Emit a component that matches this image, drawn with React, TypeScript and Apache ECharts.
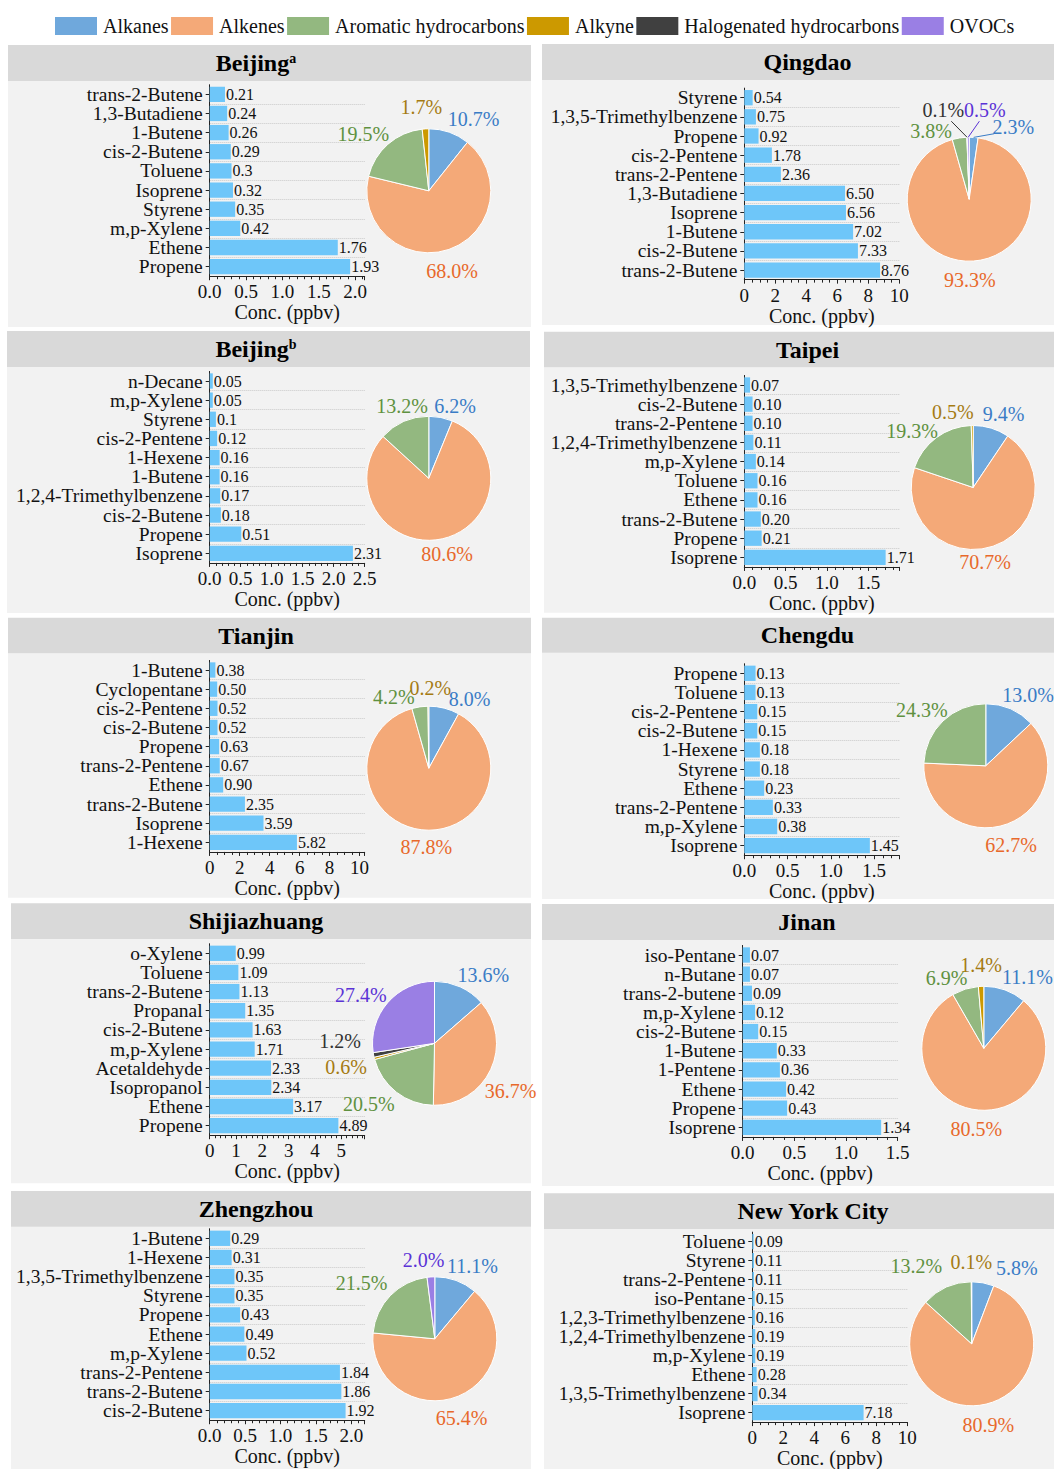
import React, { useEffect, useRef } from 'react';
import * as echarts from 'echarts';

const FONT = "'Liberation Serif', 'Times New Roman', Times, serif";

// ---------- categories / colours ----------
const groupNames = ['Alkanes', 'Alkenes', 'Aromatic hydrocarbons', 'Alkyne', 'Halogenated hydrocarbons', 'OVOCs'];
const groupColors = ['#6fa8dc', '#f4a978', '#93b880', '#cc9900', '#404040', '#9a7fe4'];
const groupLabelColors = ['#3a7cc6', '#e8692b', '#5f9140', '#a57b12', '#333333', '#5b33d6'];
const BAR_COLOR = '#6ec6f9';

// ---------- data ----------
const beijingASpecies = ['trans-2-Butene', '1,3-Butadiene', '1-Butene', 'cis-2-Butene', 'Toluene', 'Isoprene', 'Styrene', 'm,p-Xylene', 'Ethene', 'Propene'];
const beijingAConc = [0.21, 0.24, 0.26, 0.29, 0.3, 0.32, 0.35, 0.42, 1.76, 1.93];
const beijingAShare = [10.7, 68.0, 19.5, 1.7, 0, 0];

const qingdaoSpecies = ['Styrene', '1,3,5-Trimethylbenzene', 'Propene', 'cis-2-Pentene', 'trans-2-Pentene', '1,3-Butadiene', 'Isoprene', '1-Butene', 'cis-2-Butene', 'trans-2-Butene'];
const qingdaoConc = [0.54, 0.75, 0.92, 1.78, 2.36, 6.5, 6.56, 7.02, 7.33, 8.76];
const qingdaoShare = [2.3, 93.3, 3.8, 0, 0.1, 0.5];

const beijingBSpecies = ['n-Decane', 'm,p-Xylene', 'Styrene', 'cis-2-Pentene', '1-Hexene', '1-Butene', '1,2,4-Trimethylbenzene', 'cis-2-Butene', 'Propene', 'Isoprene'];
const beijingBConc = [0.05, 0.05, 0.1, 0.12, 0.16, 0.16, 0.17, 0.18, 0.51, 2.31];
const beijingBShare = [6.2, 80.6, 13.2, 0, 0, 0];

const taipeiSpecies = ['1,3,5-Trimethylbenzene', 'cis-2-Butene', 'trans-2-Pentene', '1,2,4-Trimethylbenzene', 'm,p-Xylene', 'Toluene', 'Ethene', 'trans-2-Butene', 'Propene', 'Isoprene'];
const taipeiConc = [0.07, 0.1, 0.1, 0.11, 0.14, 0.16, 0.16, 0.2, 0.21, 1.71];
const taipeiShare = [9.4, 70.7, 19.3, 0.5, 0, 0];

const tianjinSpecies = ['1-Butene', 'Cyclopentane', 'cis-2-Pentene', 'cis-2-Butene', 'Propene', 'trans-2-Pentene', 'Ethene', 'trans-2-Butene', 'Isoprene', '1-Hexene'];
const tianjinConc = [0.38, 0.5, 0.52, 0.52, 0.63, 0.67, 0.9, 2.35, 3.59, 5.82];
const tianjinShare = [8.0, 87.8, 4.2, 0.2, 0, 0];

const chengduSpecies = ['Propene', 'Toluene', 'cis-2-Pentene', 'cis-2-Butene', '1-Hexene', 'Styrene', 'Ethene', 'trans-2-Pentene', 'm,p-Xylene', 'Isoprene'];
const chengduConc = [0.13, 0.13, 0.15, 0.15, 0.18, 0.18, 0.23, 0.33, 0.38, 1.45];
const chengduShare = [13.0, 62.7, 24.3, 0, 0, 0];

const shijiazhuangSpecies = ['o-Xylene', 'Toluene', 'trans-2-Butene', 'Propanal', 'cis-2-Butene', 'm,p-Xylene', 'Acetaldehyde', 'Isopropanol', 'Ethene', 'Propene'];
const shijiazhuangConc = [0.99, 1.09, 1.13, 1.35, 1.63, 1.71, 2.33, 2.34, 3.17, 4.89];
const shijiazhuangShare = [13.6, 36.7, 20.5, 0.6, 1.2, 27.4];

const jinanSpecies = ['iso-Pentane', 'n-Butane', 'trans-2-butene', 'm,p-Xylene', 'cis-2-Butene', '1-Butene', '1-Pentene', 'Ethene', 'Propene', 'Isoprene'];
const jinanConc = [0.07, 0.07, 0.09, 0.12, 0.15, 0.33, 0.36, 0.42, 0.43, 1.34];
const jinanShare = [11.1, 80.5, 6.9, 1.4, 0, 0];

const zhengzhouSpecies = ['1-Butene', '1-Hexene', '1,3,5-Trimethylbenzene', 'Styrene', 'Propene', 'Ethene', 'm,p-Xylene', 'trans-2-Pentene', 'trans-2-Butene', 'cis-2-Butene'];
const zhengzhouConc = [0.29, 0.31, 0.35, 0.35, 0.43, 0.49, 0.52, 1.84, 1.86, 1.92];
const zhengzhouShare = [11.1, 65.4, 21.5, 0, 0, 2.0];

const nycSpecies = ['Toluene', 'Styrene', 'trans-2-Pentene', 'iso-Pentane', '1,2,3-Trimethylbenzene', '1,2,4-Trimethylbenzene', 'm,p-Xylene', 'Ethene', '1,3,5-Trimethylbenzene', 'Isoprene'];
const nycConc = [0.09, 0.11, 0.11, 0.15, 0.16, 0.19, 0.19, 0.28, 0.34, 7.18];
const nycShare = [5.8, 80.9, 13.2, 0.1, 0, 0];

// ---------- panels (content) ----------
const panels = [
  { title: 'Beijing', sup: 'a', species: beijingASpecies, conc: beijingAConc, share: beijingAShare, axisMax: 2.13, interval: 0.5, raw: true },
  { title: 'Qingdao', sup: '', species: qingdaoSpecies, conc: qingdaoConc, share: qingdaoShare, axisMax: 10, interval: 2, raw: false },
  { title: 'Beijing', sup: 'b', species: beijingBSpecies, conc: beijingBConc, share: beijingBShare, axisMax: 2.5, interval: 0.5, raw: true },
  { title: 'Taipei', sup: '', species: taipeiSpecies, conc: taipeiConc, share: taipeiShare, axisMax: 1.875, interval: 0.5, raw: false },
  { title: 'Tianjin', sup: '', species: tianjinSpecies, conc: tianjinConc, share: tianjinShare, axisMax: 10.34, interval: 2, raw: false },
  { title: 'Chengdu', sup: '', species: chengduSpecies, conc: chengduConc, share: chengduShare, axisMax: 1.79, interval: 0.5, raw: false },
  { title: 'Shijiazhuang', sup: '', species: shijiazhuangSpecies, conc: shijiazhuangConc, share: shijiazhuangShare, axisMax: 5.89, interval: 1, raw: false },
  { title: 'Jinan', sup: '', species: jinanSpecies, conc: jinanConc, share: jinanShare, axisMax: 1.5, interval: 0.5, raw: false },
  { title: 'Zhengzhou', sup: '', species: zhengzhouSpecies, conc: zhengzhouConc, share: zhengzhouShare, axisMax: 2.19, interval: 0.5, raw: false },
  { title: 'New York City', sup: '', species: nycSpecies, conc: nycConc, share: nycShare, axisMax: 10, interval: 2, raw: false },
];

// ---------- layout (positions only) ----------
const ROW_STEP = 19.15;
const GRID_W = 155;
const PIE_R = 62;
const LABEL_R = 81;
const layout = [
  { x0: 8, x1: 531, headTop: 45, headBot: 81, bodyBot: 327, titleX: 256, axisX: 209.7, firstRow: 94.3, cx: 428.8, cy: 190.8 },
  { x0: 542, x1: 1054, headTop: 44, headBot: 80, bodyBot: 325, titleX: 807.5, axisX: 744.3, firstRow: 97.7, cx: 969.2, cy: 199.2 },
  { x0: 7, x1: 530, headTop: 331, headBot: 367, bodyBot: 613, titleX: 256, axisX: 209.7, firstRow: 381, cx: 428.8, cy: 478.3 },
  { x0: 544, x1: 1054, headTop: 331.7, headBot: 367.3, bodyBot: 612.7, titleX: 807.5, axisX: 744.3, firstRow: 385, cx: 973.2, cy: 487.5 },
  { x0: 8, x1: 531, headTop: 617.7, headBot: 653.3, bodyBot: 897.7, titleX: 256, axisX: 209.7, firstRow: 670, cx: 428.8, cy: 768.2 },
  { x0: 542, x1: 1054, headTop: 617.7, headBot: 652.7, bodyBot: 899, titleX: 807.5, axisX: 744.3, firstRow: 673.3, cx: 985.8, cy: 765.8 },
  { x0: 11, x1: 531, headTop: 903.3, headBot: 939, bodyBot: 1183.3, titleX: 256, axisX: 209.7, firstRow: 953.3, cx: 434.5, cy: 1043.3 },
  { x0: 542, x1: 1054, headTop: 904, headBot: 940, bodyBot: 1186, titleX: 807, axisX: 742.7, firstRow: 955, cx: 983.8, cy: 1048.3 },
  { x0: 11, x1: 531, headTop: 1191, headBot: 1226.7, bodyBot: 1469, titleX: 256, axisX: 209.7, firstRow: 1238.3, cx: 434.8, cy: 1338.8 },
  { x0: 544, x1: 1054, headTop: 1193.3, headBot: 1229, bodyBot: 1469, titleX: 813, axisX: 752.3, firstRow: 1241.7, cx: 971.7, cy: 1343.8 },
];

// pie percentage label nudges (per group, px)
const labelNudge = [
  [[17, 7], [-4, 1], [-10, 6], [-3, 0], [0, 0], [0, 0]],
  [[38, 12], [-5, -3], [-25, 15], [0, 0], [-23, -5], [17, -5]],
  [[10, 10], [0, -6], [7, 5], [0, 0], [0, 0], [0, 0]],
  [[6, 7], [-15, -5], [-11, 11], [-19, 8], [0, 0], [0, 0]],
  [[20, 12], [7, -5], [-23, 12], [2, 4], [0, 0], [0, 0]],
  [[9, 6], [-4, 0], [-6, 5], [0, 0], [0, 0], [0, 0]],
  [[14, 8], [0, 12], [-14, -6], [-7, 3], [-12, -18], [-10, 6]],
  [[15, 8], [0, -3], [-12, 10], [1, 1], [0, 0], [0, 0]],
  [[9, 6], [-5, 1], [-13, 3], [0, 0], [0, 0], [-6, 5]],
  [[30, 7], [-3, 0], [-21, -1], [0, 2], [0, 0], [0, 0]],
];
// which pie labels get a leader segment (panel index -> groups)
const leaderGroups: Record<number, number[]> = { 1: [0, 4, 5] };

// mid-angle of each slice, measured clockwise from 12 o'clock (degrees)
function midAngles(share: number[]) {
  const total = share.reduce((a, b) => a + b, 0);
  const out: number[] = [];
  let acc = 0;
  share.forEach((v) => {
    out.push(((acc + v / 2) / total) * 360);
    acc += v;
  });
  return out;
}

function buildOption() {
  const grid: any[] = [];
  const xAxis: any[] = [];
  const yAxis: any[] = [];
  const barSeries: any[] = [];
  const pieSeries: any[] = [];
  const labelSeries: any[] = [];
  const graphic: any[] = [];

  panels.forEach((p, i) => {
    const L = layout[i];
    const top = L.firstRow - ROW_STEP / 2;
    grid.push({ left: L.axisX, top, width: GRID_W, height: ROW_STEP * 10, containLabel: false });
    const dec = p.interval < 1 ? 1 : 0;
    const iv = p.interval;
    xAxis.push({
      type: 'value', gridIndex: i, min: 0, max: p.axisMax, interval: iv,
      name: 'Conc. (ppbv)', nameLocation: 'middle', nameGap: 25,
      nameTextStyle: { fontFamily: FONT, fontSize: 20, color: '#111' },
      axisLine: { show: true, onZero: false, lineStyle: { color: '#222', width: 1 } },
      axisTick: { show: true, length: 4, lineStyle: { color: '#222' } },
      minorTick: { show: true, splitNumber: iv >= 2 ? 4 : 5, length: 3, lineStyle: { color: '#222' } },
      axisLabel: {
        fontFamily: FONT, fontSize: 19, color: '#111', margin: 6, hideOverlap: false,
        formatter: (v: number) => {
          const k = v / iv;
          return Math.abs(k - Math.round(k)) < 1e-6 ? v.toFixed(dec) : '';
        },
      },
      splitLine: { show: false },
    });
    yAxis.push({
      type: 'category', gridIndex: i, inverse: true, data: p.species,
      axisLine: { show: true, onZero: false, lineStyle: { color: '#222', width: 1 } },
      axisTick: { show: true, alignWithLabel: true, length: 4, lineStyle: { color: '#222' } },
      axisLabel: { fontFamily: FONT, fontSize: 19.5, lineHeight: 19, color: '#111', margin: 7, interval: 0, hideOverlap: false },
      splitLine: { show: true, showMinLine: false, showMaxLine: false, lineStyle: { color: '#c9c9c9', type: 'dotted', width: 1 } },
    });
    barSeries.push({
      type: 'bar', xAxisIndex: i, yAxisIndex: i, data: p.conc, barCategoryGap: '20%', silent: true,
      itemStyle: { color: BAR_COLOR },
      labelLayout: { hideOverlap: false },
      label: {
        show: true, position: 'right', distance: 1, fontFamily: FONT, fontSize: 16, color: '#111',
        formatter: (prm: any) => (p.raw ? String(prm.value) : Number(prm.value).toFixed(2)),
      },
    });

    const items = p.share.map((v, g) => ({ v, g })).filter((d) => d.v > 0);
    pieSeries.push({
      type: 'pie', center: [L.cx, L.cy], radius: PIE_R, startAngle: 90, clockwise: true, silent: true,
      label: { show: false }, labelLine: { show: false }, emphasis: { disabled: true },
      itemStyle: { borderColor: '#ffffff', borderWidth: 1 },
      data: items.map((d) => ({ name: groupNames[d.g], value: d.v, itemStyle: { color: groupColors[d.g] } })),
    });
    // one transparent label-carrier pie per percentage label, so that overlapping labels all stay visible
    items.forEach((shown) => {
      labelSeries.push({
        type: 'pie', center: [L.cx, L.cy], radius: [0, LABEL_R * 2], startAngle: 90, clockwise: true, silent: true, z: 5,
        avoidLabelOverlap: false, labelLayout: { hideOverlap: false },
        labelLine: { show: false }, emphasis: { disabled: true },
        label: { show: false, position: 'inside', overflow: 'none', fontFamily: FONT, fontSize: 20, formatter: (prm: any) => `${Number(prm.value).toFixed(1)}%` },
        data: items.map((d) => ({
          name: groupNames[d.g], value: d.v,
          itemStyle: { color: 'rgba(0,0,0,0)', borderWidth: 0 },
          label: { show: d.g === shown.g, color: groupLabelColors[d.g], offset: labelNudge[i][d.g] },
        })),
      });
    });

    // leader segments from slice edge to its (nudged) label
    const groups = leaderGroups[i] || [];
    if (groups.length) {
      const nz = items.map((d) => d.v);
      const mids = midAngles(nz);
      groups.forEach((g) => {
        const k = items.findIndex((d) => d.g === g);
        if (k < 0) return;
        const a = (mids[k] * Math.PI) / 180;
        const sx = L.cx + PIE_R * Math.sin(a);
        const sy = L.cy - PIE_R * Math.cos(a);
        const lx = L.cx + LABEL_R * Math.sin(a) + labelNudge[i][g][0];
        const ly = L.cy - LABEL_R * Math.cos(a) + labelNudge[i][g][1];
        const hw = 19;
        const hh = 8;
        const dx = lx - sx;
        const dy = ly - sy;
        const tx = dx !== 0 ? (Math.abs(dx) - hw) / Math.abs(dx) : 0;
        const ty = dy !== 0 ? (Math.abs(dy) - hh) / Math.abs(dy) : 0;
        const t = Math.max(0, Math.min(1, Math.max(tx, ty)));
        graphic.push({
          type: 'line', z: 6, silent: true,
          shape: { x1: sx, y1: sy, x2: sx + dx * t, y2: sy + dy * t },
          style: { stroke: groupLabelColors[g], lineWidth: 1 },
        });
      });
    }

    graphic.push({
      type: 'rect', z: -10, silent: true,
      shape: { x: L.x0, y: L.headBot, width: L.x1 - L.x0, height: L.bodyBot - L.headBot },
      style: { fill: '#f2f2f2' },
    });
    graphic.push({
      type: 'rect', z: -10, silent: true,
      shape: { x: L.x0, y: L.headTop, width: L.x1 - L.x0, height: L.headBot - L.headTop },
      style: { fill: '#d9d9d9' },
    });
    graphic.push({
      type: 'text', z: 10, silent: true, x: L.titleX, y: (L.headTop + L.headBot) / 2,
      style: {
        text: p.sup ? `{t|${p.title}}{s|${p.sup}}` : `{t|${p.title}}`,
        rich: {
          t: { fontFamily: FONT, fontSize: 24, fontWeight: 'bold', fill: '#000', color: '#000' },
          s: { fontFamily: FONT, fontSize: 14, fontWeight: 'bold', fill: '#000', color: '#000', verticalAlign: 'top' },
        },
        fontFamily: FONT, fontSize: 24, fontWeight: 'bold', fill: '#000',
        textAlign: 'center', textVerticalAlign: 'middle', align: 'center', verticalAlign: 'middle',
      },
    });
  });

  return {
    animation: false,
    backgroundColor: '#ffffff',
    textStyle: { fontFamily: FONT },
    legend: {
      data: groupNames.map((n, g) => ({ name: n, icon: 'rect', itemStyle: { color: groupColors[g] } })),
      left: 53, top: 15, padding: 0, itemWidth: 44, itemHeight: 20, itemGap: 0.5,
      selectedMode: false,
      textStyle: { fontFamily: FONT, fontSize: 20, color: '#111' },
    },
    grid, xAxis, yAxis,
    series: [...barSeries, ...pieSeries, ...labelSeries],
    graphic: { elements: graphic },
  };
}

export default function App() {
  const ref = useRef<HTMLDivElement>(null);
  useEffect(() => {
    if (!ref.current) return;
    const chart = echarts.init(ref.current, undefined, { renderer: 'svg' });
    chart.setOption(buildOption() as any);
    return () => chart.dispose();
  }, []);
  return <div ref={ref} style={{ position: 'absolute', left: 0, top: 0, width: 1054, height: 1469 }} />;
}
